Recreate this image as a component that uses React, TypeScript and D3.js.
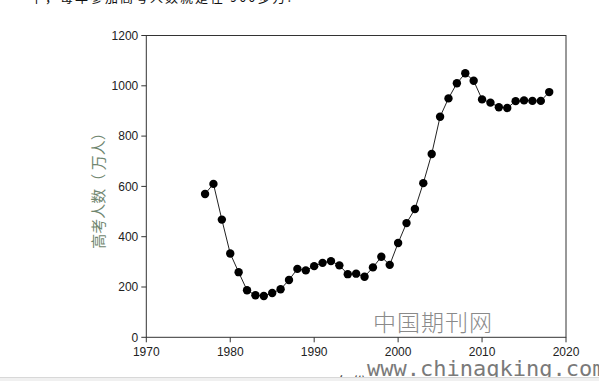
import React from "react";
import * as d3 from "d3";

const years = [1977,1978,1979,1980,1981,1982,1983,1984,1985,1986,1987,1988,1989,1990,1991,1992,1993,1994,1995,1996,1997,1998,1999,2000,2001,2002,2003,2004,2005,2006,2007,2008,2009,2010,2011,2012,2013,2014,2015,2016,2017,2018];
const examinees = [570,610,468,333,259,187,167,164,176,191,228,272,266,283,296,303,286,251,253,241,278,320,288,375,454,510,613,729,877,950,1010,1050,1020,946,933,915,912,939,942,940,940,975];
const xTicks = [1970,1980,1990,2000,2010,2020];
const yTicks = [0,200,400,600,800,1000,1200];
const yTitle = "高考人数（ 万人）";
const xTitle = "年份";
const topText = "中，每年参加高考人数就是在 900多万.";
const watermarkCn = "中国期刊网";
const watermarkUrl = "www.chinaqking.com";

export default function App() {
  const W = 599, H = 381;
  const x = d3.scaleLinear().domain([1970, 2020]).range([146.3, 566]);
  const y = d3.scaleLinear().domain([0, 1200]).range([337.3, 35.5]);
  const pts = years.map((yr, i) => [yr, examinees[i]] as [number, number]);
  const line = d3.line<[number, number]>().x(d => x(d[0])).y(d => y(d[1]));
  const axisColor = "#333";
  return (
    <svg width={W} height={H} style={{ position: "absolute", left: 0, top: 0, background: "#fff" }}>
      <text x={30} y={2} fontFamily="'Noto Sans CJK SC'" fontSize={13} fill="#111" letterSpacing={2}>{topText}</text>
      <rect x={x(1970)} y={y(1200)} width={x(2020) - x(1970)} height={y(0) - y(1200)} fill="none" stroke={axisColor} strokeWidth={1} />
      <text x={373} y={331} fontFamily="'Noto Sans CJK SC'" fontWeight={300} fontSize={23} fill="#8a8a8a" letterSpacing={1}>{watermarkCn}</text>
      {yTicks.map(t => (
        <g key={"y" + t}>
          <line x1={x(1970) - 5} x2={x(1970)} y1={y(t)} y2={y(t)} stroke={axisColor} />
          <text x={x(1970) - 8} y={y(t)} dy="0.35em" textAnchor="end" fontFamily="'Liberation Sans', Arial" fontSize={12} fill="#222">{t}</text>
        </g>
      ))}
      {xTicks.map(t => (
        <g key={"x" + t}>
          <line x1={x(t)} x2={x(t)} y1={y(0)} y2={y(0) + 5} stroke={axisColor} />
          <text x={x(t)} y={y(0) + 19} textAnchor="middle" fontFamily="'Liberation Sans', Arial" fontSize={12} fill="#222">{t}</text>
        </g>
      ))}
      <text transform={`translate(97,187) rotate(-90)`} textAnchor="middle" dominantBaseline="central" fontFamily="'Noto Sans CJK SC'" fontSize={15} fill="#6f866f">{yTitle}</text>
      <path d={line(pts) || ""} fill="none" stroke="#222" strokeWidth={1} />
      {pts.map((p, i) => (
        <circle key={i} cx={x(p[0])} cy={y(p[1])} r={4.2} fill="#000" />
      ))}
      <text x={352} y={388} textAnchor="middle" fontFamily="'Noto Sans CJK SC'" fontSize={15} fill="#444">{xTitle}</text>
      <text x={367} y={376} fontFamily="'DejaVu Sans Mono', monospace" fontSize={22} fill="#7a7a7a">{watermarkUrl}</text>
      <rect x={0} y={377} width={W} height={4} fill="#f0f0f0" />
      <line x1={0} x2={W} y1={377.5} y2={377.5} stroke="#d8d8d8" />
    </svg>
  );
}
